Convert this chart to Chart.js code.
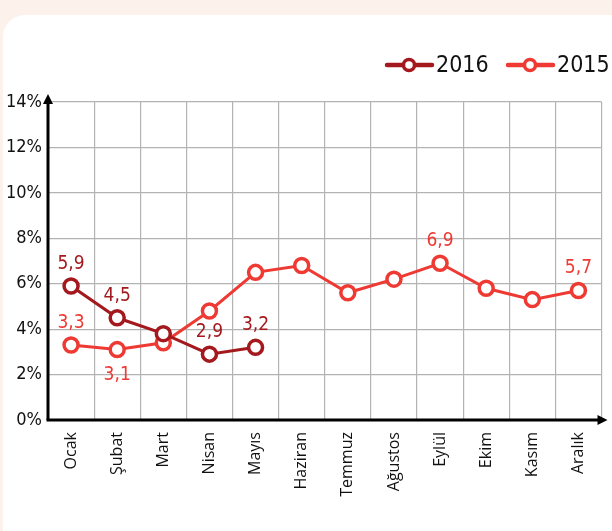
<!DOCTYPE html>
<html><head><meta charset="utf-8">
<script src="https://cdn.jsdelivr.net/npm/chart.js@4/dist/chart.umd.min.js"></script>
<style>
html,body{margin:0;padding:0;background:#fdf1ec;width:612px;height:531px;overflow:hidden;}
#card{position:absolute;left:3px;top:15px;width:640px;height:560px;background:#fff;border-radius:22px;}
#wrap{position:absolute;left:0;top:0;width:612px;height:531px;}
</style></head><body>
<div id="card"></div>
<div id="wrap"><canvas id="c" width="612" height="531"></canvas></div>
<script>
const categories = ["Ocak","Şubat","Mart","Nisan","Mayıs","Haziran","Temmuz","Ağustos","Eylül","Ekim","Kasım","Aralık"];
const series2016 = [5.9, 4.5, 3.8, 2.9, 3.2];
const series2015 = [3.3, 3.1, 3.4, 4.8, 6.5, 6.8, 5.6, 6.2, 6.9, 5.8, 5.3, 5.7];
const yTicks = [0, 2, 4, 6, 8, 10, 12, 14];
const labels2016 = [true, true, false, true, true];
const labels2015 = [true, "below", false, false, false, false, false, false, true, false, false, true];

const C2016 = "#a3191e";
const C2015 = "#ee3a33";
const FONT = "'Liberation Sans Narrow','DejaVu Sans Condensed','Roboto',sans-serif";

const overlay = {
  id: "overlay",
  afterDatasetsDraw(chart) {
    const ctx = chart.ctx, a = chart.chartArea;
    const x = chart.scales.x, y = chart.scales.y;
    ctx.save();
    // axes
    ctx.strokeStyle = "#000"; ctx.fillStyle = "#000"; ctx.lineWidth = 3;
    const x0 = a.left, y0 = y.getPixelForValue(0);
    ctx.beginPath(); ctx.moveTo(x0, y0); ctx.lineTo(x0, a.top - 2); ctx.stroke();
    ctx.beginPath(); ctx.moveTo(x0 - 1.5, y0); ctx.lineTo(a.right + 1, y0); ctx.stroke();
    ctx.beginPath(); ctx.moveTo(x0, a.top - 8); ctx.lineTo(x0 - 5, a.top + 2); ctx.lineTo(x0 + 5, a.top + 2); ctx.closePath(); ctx.fill();
    ctx.beginPath(); ctx.moveTo(a.right + 6, y0); ctx.lineTo(a.right - 4, y0 - 5); ctx.lineTo(a.right - 4, y0 + 5); ctx.closePath(); ctx.fill();
    // data labels
    ctx.font = "19px " + FONT;
    ctx.textAlign = "center"; ctx.textBaseline = "middle";
    const draw = (dsIndex, flags, color) => {
      const meta = chart.getDatasetMeta(dsIndex);
      const data = chart.data.datasets[dsIndex].data;
      meta.data.forEach((pt, i) => {
        if (!flags[i]) return;
        const txt = data[i].toFixed(1).replace(".", ",");
        ctx.fillStyle = color;
        const dy = flags[i] === "below" ? 25 : -22;
        ctx.fillText(txt, pt.x, pt.y + dy);
      });
    };
    draw(0, labels2016, C2016);
    draw(1, labels2015, C2015);
    // legend
    const items = [[chart.data.datasets[0].label, C2016, 387], [chart.data.datasets[1].label, C2015, 508]];
    const ly = 65;
    items.forEach(([lab, col, lx]) => {
      ctx.strokeStyle = col; ctx.lineWidth = 4.5; ctx.lineCap = "round";
      ctx.beginPath(); ctx.moveTo(lx, ly); ctx.lineTo(lx + 45, ly); ctx.stroke();
      ctx.beginPath(); ctx.arc(lx + 22, ly, 5.5, 0, Math.PI * 2);
      ctx.fillStyle = "#fff"; ctx.fill(); ctx.lineWidth = 3.5; ctx.stroke();
      ctx.fillStyle = "#111"; ctx.textAlign = "left";
      ctx.font = "23px " + FONT;
      ctx.fillText(lab, lx + 49, ly + 1);
    });
    ctx.restore();
  }
};

new Chart(document.getElementById("c"), {
  type: "line",
  data: {
    labels: categories,
    datasets: [
      { label: "2016", data: series2016, borderColor: C2016, backgroundColor: "#fff", borderWidth: 3,
        pointRadius: 7, pointBorderWidth: 3.5, pointBackgroundColor: "#fff", pointBorderColor: C2016, tension: 0, order: 0 },
      { label: "2015", data: series2015, borderColor: C2015, backgroundColor: "#fff", borderWidth: 3,
        pointRadius: 7, pointBorderWidth: 3.5, pointBackgroundColor: "#fff", pointBorderColor: C2015, tension: 0, order: 1 }
    ]
  },
  options: {
    responsive: false, animation: false, devicePixelRatio: 1,
    layout: { padding: { left: 0, right: 3, top: 102, bottom: 0 } },
    plugins: { legend: { display: false }, tooltip: { enabled: false } },
    scales: {
      x: {
        offset: true,
        grid: { color: "#b3b3b3", lineWidth: 1.2, offset: true, drawTicks: false },
        border: { display: false },
        ticks: { color: "#111", font: { family: "'Open Sans',sans-serif", size: 16 }, minRotation: 90, maxRotation: 90, padding: 12, autoSkip: false },
        afterFit(s) { s.height = 111; }
      },
      y: {
        min: 0, max: 14,
        afterBuildTicks(s) { s.ticks = yTicks.map(v => ({ value: v })); },
        grid: { color: "#b3b3b3", lineWidth: 1.2, drawTicks: false },
        border: { display: false },
        ticks: { color: "#111", font: { family: FONT, size: 18 }, padding: 6, callback: v => v + "%" },
        afterFit(s) { s.width = 48; }
      }
    }
  },
  plugins: [overlay]
});
</script>
</body></html>
